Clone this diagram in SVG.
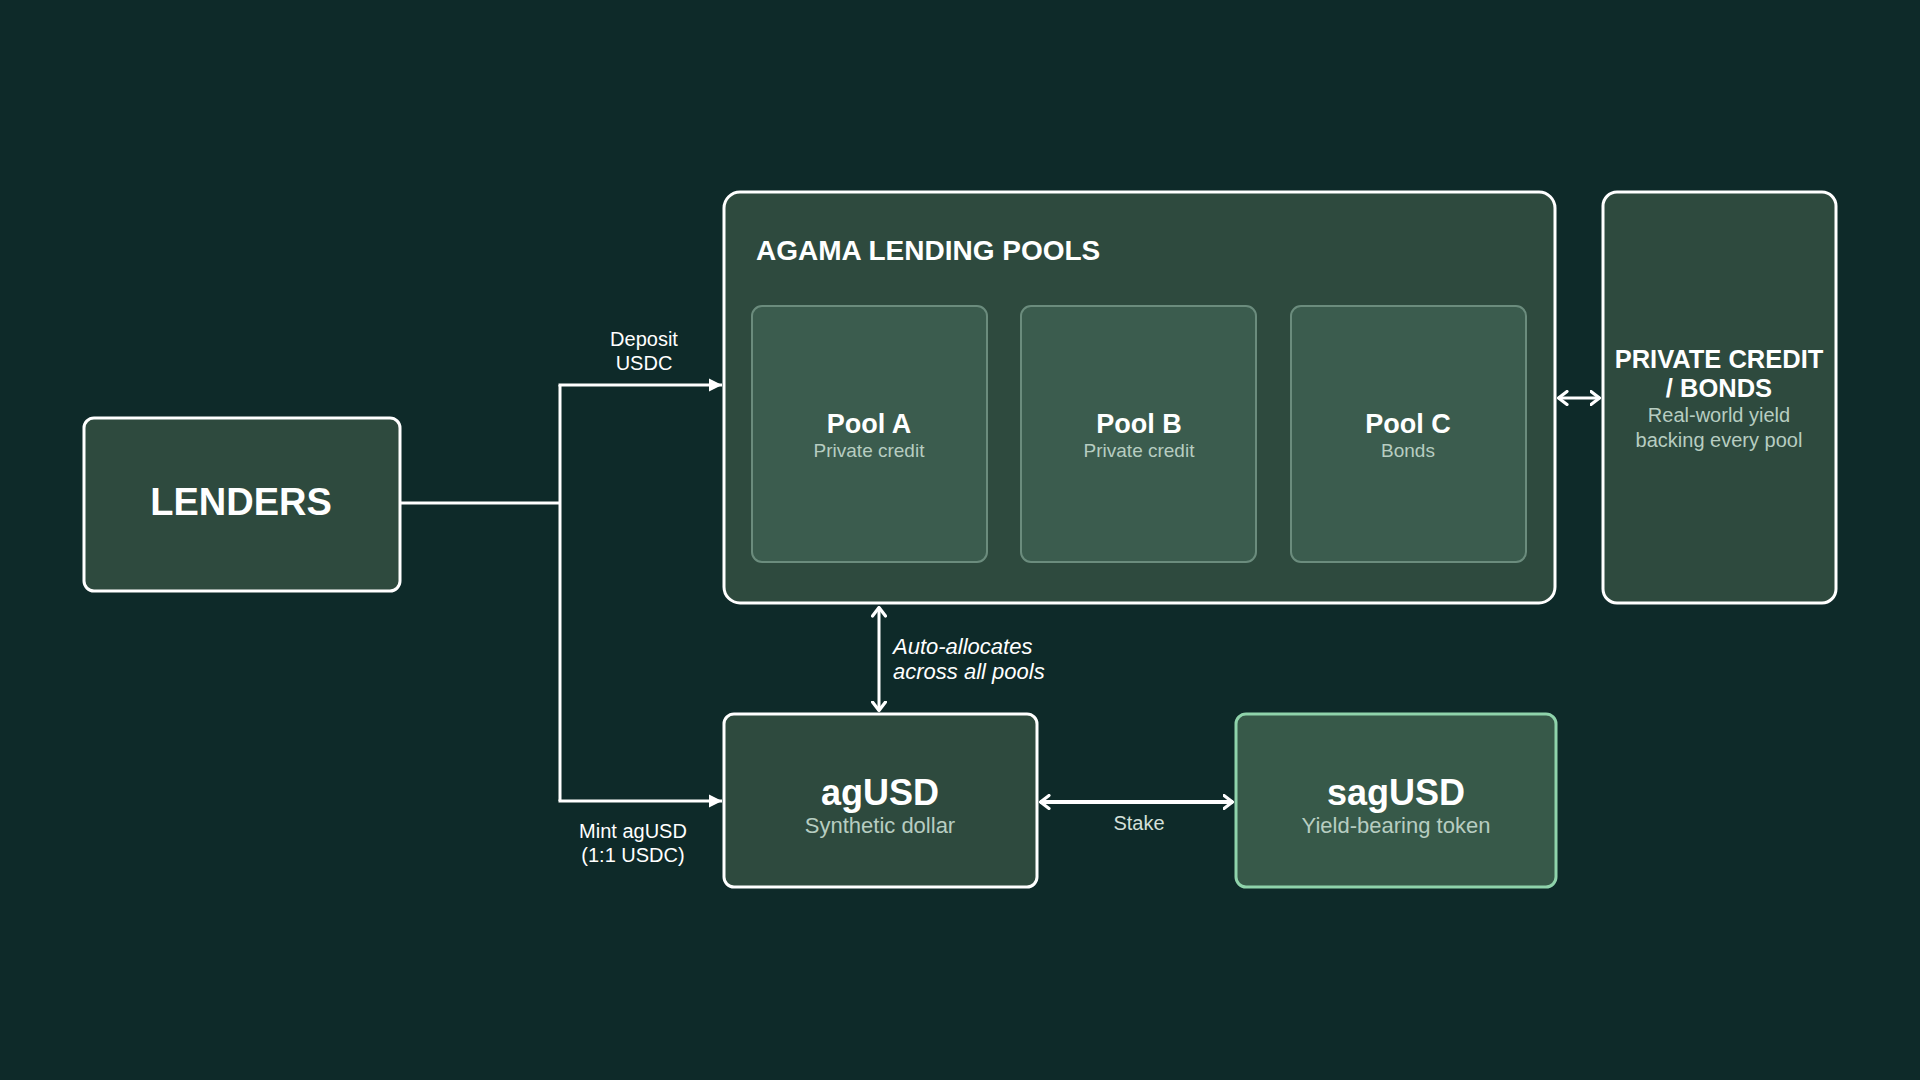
<svg xmlns="http://www.w3.org/2000/svg" width="1920" height="1080" viewBox="0 0 1920 1080">
<defs>
<style>
.box{fill:#2e4a3e;stroke:#ffffff;stroke-width:3}
.pool{fill:#3b5c4e;stroke:#6b8c7d;stroke-width:2}
.t{font-family:"Liberation Sans",Arial,sans-serif;fill:#ffffff;text-anchor:middle}
.b{font-weight:bold}
.sub{font-family:"Liberation Sans",Arial,sans-serif;fill:#b7cdc1;text-anchor:middle}
.lbl{font-family:"Liberation Sans",Arial,sans-serif;fill:#ffffff;font-size:20px;text-anchor:middle}
.conn{fill:none;stroke:#ffffff;stroke-width:3}
</style>
<marker id="tri" viewBox="0 0 10 10" refX="10" refY="5" markerWidth="4.5" markerHeight="4.5" orient="auto" markerUnits="strokeWidth">
<path d="M0,0 L10,5 L0,10 z" fill="#ffffff"/>
</marker>
<marker id="chev" viewBox="0 0 12 16" refX="10.5" refY="8" markerWidth="12" markerHeight="16" orient="auto-start-reverse" markerUnits="userSpaceOnUse">
<path d="M1.5,1.5 L10,8 L1.5,14.5" fill="none" stroke="#ffffff" stroke-width="3.2" stroke-linecap="round" stroke-linejoin="round"/>
</marker>
</defs>
<rect width="1920" height="1080" fill="#0e2a29"/>

<g id="connectors">
<path class="conn" d="M400,503 H560"/>
<path class="conn" d="M560,385 V801"/>
<path class="conn" d="M558.5,385 H722" marker-end="url(#tri)"/>
<path class="conn" d="M558.5,801 H722" marker-end="url(#tri)"/>
<path class="conn" d="M879,607 V711" marker-start="url(#chev)" marker-end="url(#chev)"/>
<path class="conn" d="M1558,398 H1600" marker-start="url(#chev)" marker-end="url(#chev)"/>
<path class="conn" d="M1040,802 H1233" style="stroke-width:4" marker-start="url(#chev)" marker-end="url(#chev)"/>
<text class="lbl" x="644" y="346">Deposit</text>
<text class="lbl" x="644" y="370">USDC</text>
<text class="lbl" x="633" y="838">Mint agUSD</text>
<text class="lbl" x="633" y="862">(1:1 USDC)</text>
<text class="lbl" x="893" y="654" style="text-anchor:start;font-style:italic;font-size:22px">Auto-allocates</text>
<text class="lbl" x="893" y="679" style="text-anchor:start;font-style:italic;font-size:22px">across all pools</text>
<text class="lbl" x="1139" y="830" style="fill:#d4e0da">Stake</text>
</g>

<g id="lenders">
<rect class="box" x="84" y="418" width="316" height="173" rx="10"/>
<text class="t b" x="241" y="515" font-size="38">LENDERS</text>
</g>

<g id="agama-lending-pools">
<rect class="box" x="724" y="192" width="831" height="411" rx="16"/>
<text class="t b" x="756" y="260" font-size="28" style="text-anchor:start">AGAMA LENDING POOLS</text>
</g>

<g id="pool-a">
<rect class="pool" x="752" y="306" width="235" height="256" rx="10"/>
<text class="t b" x="869" y="433" font-size="27">Pool A</text>
<text class="sub" x="869" y="457" font-size="19">Private credit</text>
</g>

<g id="pool-b">
<rect class="pool" x="1021" y="306" width="235" height="256" rx="10"/>
<text class="t b" x="1139" y="433" font-size="27">Pool B</text>
<text class="sub" x="1139" y="457" font-size="19">Private credit</text>
</g>

<g id="pool-c">
<rect class="pool" x="1291" y="306" width="235" height="256" rx="10"/>
<text class="t b" x="1408" y="433" font-size="27">Pool C</text>
<text class="sub" x="1408" y="457" font-size="19">Bonds</text>
</g>

<g id="private-credit-bonds">
<rect class="box" x="1603" y="192" width="233" height="411" rx="14"/>
<text class="t b" x="1719" y="368" font-size="25.5">PRIVATE CREDIT</text>
<text class="t b" x="1719" y="397" font-size="25.5">/ BONDS</text>
<text class="sub" x="1719" y="422" font-size="20">Real-world yield</text>
<text class="sub" x="1719" y="447" font-size="20">backing every pool</text>
</g>

<g id="agusd">
<rect class="box" x="724" y="714" width="313" height="173" rx="10"/>
<text class="t b" x="880" y="805" font-size="36">agUSD</text>
<text class="sub" x="880" y="833" font-size="22">Synthetic dollar</text>
</g>

<g id="sagusd">
<rect x="1236" y="714" width="320" height="173" rx="10" fill="#375949" stroke="#8fd3ab" stroke-width="3"/>
<text class="t b" x="1396" y="805" font-size="36">sagUSD</text>
<text class="sub" x="1396" y="833" font-size="22">Yield-bearing token</text>
</g>
</svg>
